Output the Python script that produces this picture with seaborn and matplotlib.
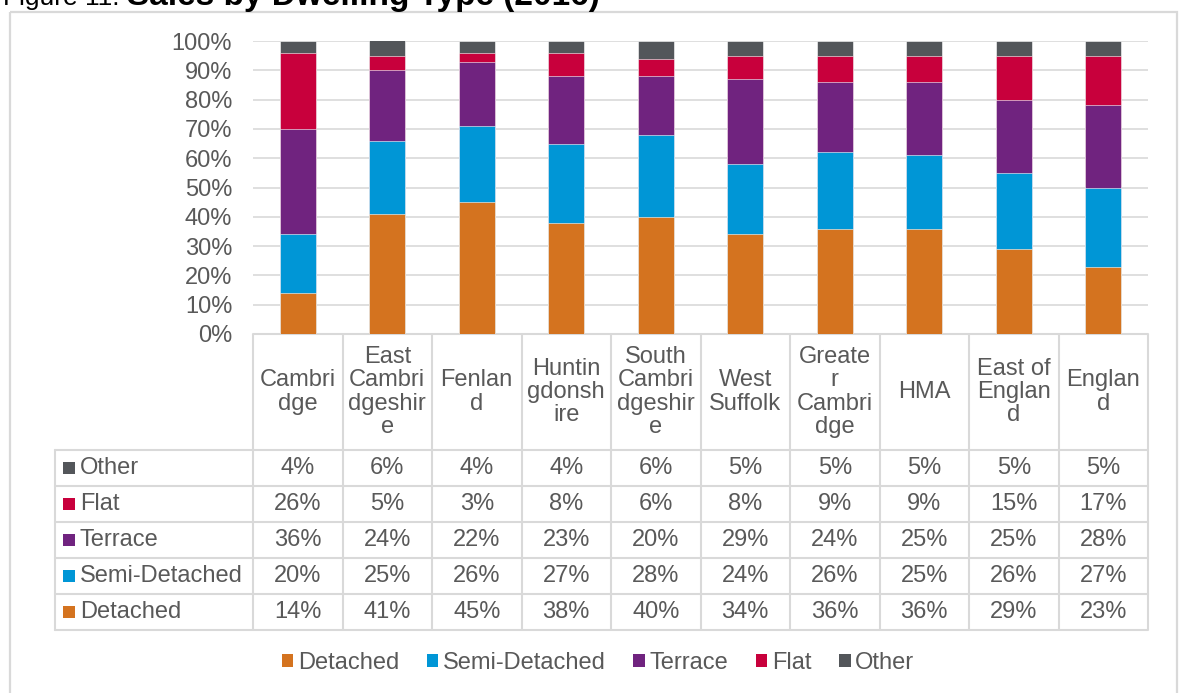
import numpy as np
import pandas as pd
import matplotlib
matplotlib.use("Agg")
import matplotlib.pyplot as plt
import seaborn as sns
from matplotlib.patches import Rectangle, Patch

# ---------------- data ----------------
areas = ["Cambridge", "East Cambridgeshire", "Fenland", "Huntingdonshire",
         "South Cambridgeshire", "West Suffolk", "Greater Cambridge", "HMA",
         "East of England", "England"]
header_labels = ["Cambri\ndge", "East\nCambri\ndgeshir\ne", "Fenlan\nd",
                 "Huntin\ngdonsh\nire", "South\nCambri\ndgeshir\ne", "West\nSuffolk",
                 "Greate\nr\nCambri\ndge", "HMA", "East of\nEnglan\nd", "Englan\nd"]
detached = [14, 41, 45, 38, 40, 34, 36, 36, 29, 23]
semi_detached = [20, 25, 26, 27, 28, 24, 26, 25, 26, 27]
terrace = [36, 24, 22, 23, 20, 29, 24, 25, 25, 28]
flat = [26, 5, 3, 8, 6, 8, 9, 9, 15, 17]
other = [4, 6, 4, 4, 6, 5, 5, 5, 5, 5]
series_names = ["Detached", "Semi-Detached", "Terrace", "Flat", "Other"]
series_colors = ["#D4731F", "#0096D6", "#70237F", "#C8003C", "#53565A"]
y_ticks = [0, 10, 20, 30, 40, 50, 60, 70, 80, 90, 100]
title_plain = "Figure 11: "
title_bold = "Sales by Dwelling Type (2016)"

series_values = [detached, semi_detached, terrace, flat, other]

# ---------------- style ----------------
sns.set_style("white")
plt.rcParams["font.family"] = ["Liberation Sans", "DejaVu Sans"]
TXT = "#595959"
GRID = "#d9d9d9"
FS = 17

W, H = 1180, 693
fig = plt.figure(figsize=(W / 100, H / 100), dpi=100)
bg = fig.add_axes([0, 0, 1, 1])
bg.set_xlim(0, W)
bg.set_ylim(H, 0)
bg.axis("off")

# layout constants (pixels)
col_left, col_right = 253, 1148
y_top, y_zero = 41, 334
n = len(areas)
col_w = (col_right - col_left) / n
row_top = 450
row_h = 36
tab_left = 55

ax = fig.add_axes([col_left / W, (H - y_zero) / H, (col_right - col_left) / W, (y_zero - y_top) / H])
ax.patch.set_alpha(0)

# stacked bars via cumulative overlap
df = pd.DataFrame({"area": areas})
cum = np.cumsum(np.array(series_values), axis=0)
for i in range(len(series_names) - 1, -1, -1):
    df["cum"] = cum[i]
    sns.barplot(data=df, x="area", y="cum", color=series_colors[i], saturation=1,
                width=0.4, errorbar=None, ax=ax, edgecolor="white", linewidth=0.4, zorder=3)

ax.set_xlim(-0.5, n - 0.5)
ax.set_ylim(0, 100)
ax.set_yticks(y_ticks)
ax.set_yticklabels([f"{v}%" for v in y_ticks], color=TXT, fontsize=FS)
ax.tick_params(axis="y", length=0, pad=15)
ax.set_xticks([])
ax.set_xlabel("")
ax.set_ylabel("")
ax.yaxis.grid(True, color=GRID, linewidth=1.2)
ax.set_axisbelow(True)
for s in ax.spines.values():
    s.set_visible(False)

# outer chart border
bg.add_patch(Rectangle((10, 12), 1167, 700, fill=False, edgecolor=GRID, linewidth=1.6))

# title
fig.text(127 / W, 1 - 5 / H, title_plain, ha="right", va="baseline", fontsize=19, color="black")
fig.text(127 / W, 1 - 5 / H, title_bold, ha="left", va="baseline", fontsize=24,
         fontweight="bold", color="black")

# data table
row_order = list(range(len(series_names) - 1, -1, -1))  # Other at top
n_rows = len(row_order)
tab_bottom = row_top + n_rows * row_h
lw = 1.5
# verticals
for j in range(n + 1):
    x = col_left + j * col_w
    bg.plot([x, x], [y_zero, tab_bottom], color=GRID, lw=lw, solid_capstyle="butt")
bg.plot([tab_left, tab_left], [row_top, tab_bottom], color=GRID, lw=lw)
# horizontals
bg.plot([col_left, col_right], [y_zero, y_zero], color=GRID, lw=lw)
for r in range(n_rows + 1):
    y = row_top + r * row_h
    bg.plot([tab_left, col_right], [y, y], color=GRID, lw=lw)

# header labels
for j, lab in enumerate(header_labels):
    xc = col_left + (j + 0.5) * col_w
    bg.text(xc, (y_zero + row_top) / 2, lab, ha="center", va="center", fontsize=FS,
            color=TXT, linespacing=1.08)

# rows
for r, si in enumerate(row_order):
    yc = row_top + (r + 0.5) * row_h
    bg.add_patch(Rectangle((63, yc - 6), 12, 12, color=series_colors[si], lw=0))
    bg.text(80, yc, series_names[si], ha="left", va="center", fontsize=FS, color=TXT)
    for j, v in enumerate(series_values[si]):
        xc = col_left + (j + 0.5) * col_w
        bg.text(xc, yc, f"{v}%", ha="center", va="center", fontsize=FS, color=TXT)

# legend
handles = [Patch(facecolor=c, edgecolor="none") for c in series_colors]
fig.legend(handles, series_names, loc="center", bbox_to_anchor=(598 / W, 1 - 663 / H),
           ncol=5, frameon=False, fontsize=FS, handlelength=0.5, handleheight=0.5,
           handletextpad=0.2, columnspacing=1.15, labelcolor=TXT, borderaxespad=0)

fig.savefig("out.png", dpi=100)
